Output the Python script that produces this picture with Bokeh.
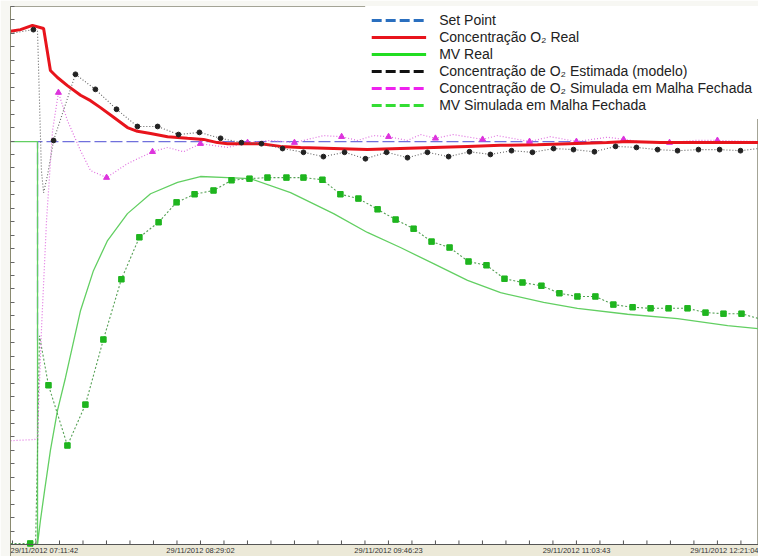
from bokeh.plotting import figure
from bokeh.models import (FixedTicker, Legend, LegendItem, Range1d, BoxAnnotation,
                          Span, ColumnDataSource, CustomJSTickFormatter)
from bokeh.core.properties import value
from bokeh.embed import file_html
from bokeh.resources import INLINE

# x: minutes since 29/11/2012 07:11:42 ; y: % of the (unlabelled) scale
sp_t = [10.3, 10.3, 306.9]
sp_y = [37.9, 74.9, 74.9]

o2_real_t = [-0.8, 3.3, 8.2, 12.8, 15.6, 18.5, 22.6, 28.0, 32.1, 36.2, 41.6, 47.3,
             51.4, 56.8, 63.8, 72.0, 78.6, 84.3, 88.5, 102.0, 110.3, 118.5, 132.1,
             146.0, 159.6, 173.2, 187.2, 200.8, 216.0, 244.8, 253.0, 266.6, 280.2, 306.9]
o2_real_y = [95.4, 95.7, 96.5, 95.9, 88.1, 86.8, 85.3, 83.5, 82.5, 81.2, 79.4, 77.5,
             76.8, 76.4, 75.8, 75.5, 75.3, 74.7, 74.5, 74.5, 74.0, 73.8, 73.6,
             73.4, 73.6, 73.8, 74.0, 74.2, 74.3, 74.7, 74.9, 74.7, 74.7, 74.7]

est_t = [-0.8, 8.6, 10.3, 11.1, 11.9, 12.8, 14.4, 16.9, 25.9, 34.1, 42.8, 51.4, 59.7,
         68.3, 76.9, 85.6, 94.2, 102.4, 111.1, 119.7, 127.9, 136.6, 145.2, 153.9,
         162.5, 170.7, 179.4, 188.0, 196.6, 205.3, 213.9, 222.6, 230.8, 239.4, 248.1,
         256.7, 265.4, 273.6, 282.2, 290.9, 299.5, 306.9]
est_y = [95.0, 95.7, 95.4, 82.5, 69.5, 65.4, 68.6, 75.1, 87.4, 84.6, 80.9, 77.7, 77.7,
         76.2, 76.6, 75.5, 74.7, 74.5, 73.6, 72.9, 72.1, 72.9, 71.7, 72.9,
         71.9, 72.9, 72.1, 73.0, 72.5, 73.2, 72.9, 73.6, 73.4, 73.0, 74.0,
         73.8, 73.4, 73.2, 73.4, 73.4, 73.2, 73.6]
est_samples = [1] + list(range(7, 41))

sim_t = [-0.8, 9.1, 10.3, 11.9, 14.0, 16.5, 18.9, 22.6, 28.0, 32.1, 38.7, 47.3, 57.6,
         63.8, 70.4, 77.3, 88.5, 96.7, 106.1, 116.0, 127.9, 135.4, 141.9, 148.5,
         154.7, 162.5, 167.9, 174.0, 181.4, 193.4, 199.5, 212.7, 221.3, 232.0, 244.8,
         251.4, 261.2, 270.3, 280.2, 290.0, 306.9]
sim_y = [19.3, 19.5, 19.9, 39.8, 60.2, 77.0, 84.0, 78.8, 73.2, 69.5, 68.2, 70.8, 73.0,
         73.8, 73.0, 74.5, 73.8, 74.7, 75.1, 74.7, 76.0, 75.8, 75.1, 76.0,
         75.8, 75.1, 76.2, 75.5, 76.2, 75.3, 76.0, 74.9, 75.8, 74.9, 75.7,
         75.3, 74.7, 74.7, 75.1, 75.1, 74.9]
sim_samples = [6, 10, 12, 15, 17, 19, 21, 24, 27, 29, 31, 33, 35, 37, 39]

mv_t = [-0.8, 10.3, 10.3, 11.5, 13.2, 15.6, 18.5, 21.8, 28.0, 33.3, 39.1, 47.3, 56.8,
        67.9, 77.3, 88.5, 97.9, 114.4, 132.1, 146.0, 159.6, 173.2, 187.2, 200.8,
        218.5, 232.4, 253.0, 273.6, 294.2, 306.9]
mv_y = [74.9, 74.9, 0.0, 4.5, 10.0, 17.5, 24.9, 31.0, 43.5, 50.9, 56.5, 61.5, 65.2,
        67.3, 68.4, 68.2, 68.0, 65.4, 61.5, 58.0, 55.2, 52.2, 49.1, 46.8,
        45.0, 43.9, 42.8, 42.0, 40.7, 40.1]

mvs_t = [-0.8, 7.3, 9.5, 10.3, 11.1, 14.8, 22.6, 30.0, 37.4, 44.8, 52.2, 60.1, 67.5,
         74.9, 82.7, 90.1, 97.5, 104.9, 112.7, 119.7, 127.5, 134.9, 142.3, 150.2,
         157.6, 165.0, 172.4, 179.8, 187.6, 195.0, 202.4, 209.8, 217.6, 225.0, 232.4,
         239.8, 247.2, 255.1, 262.5, 269.9, 277.7, 285.1, 292.5, 299.9, 306.9]
mvs_y = [0.2, 0.2, 0.2, 17.5, 38.8, 29.6, 18.4, 26.0, 38.1, 49.3, 57.1, 59.9, 63.6,
         65.1, 65.8, 67.7, 68.0, 68.2, 68.2, 68.2, 67.8, 65.1, 64.3, 62.3,
         60.4, 58.7, 56.3, 55.2, 52.6, 51.9, 49.4, 48.7, 48.1, 46.7, 46.1,
         46.1, 44.6, 44.1, 43.9, 43.9, 43.9, 43.1, 42.9, 42.9, 42.0]
mvs_samples = [1] + list(range(5, 44))

tick_minutes = [0.0, 77.333, 154.683, 232.017, 309.367]
tick_labels = ["29/11/2012 07:11:42", "29/11/2012 08:29:02", "29/11/2012 09:46:23",
               "29/11/2012 11:03:43", "29/11/2012 12:21:04"]

legend_labels = ["Set Point", "Concentração O₂ Real", "MV Real",
                 "Concentração de O₂ Estimada (modelo)",
                 "Concentração de O₂ Simulada em Malha Fechada",
                 "MV Simulada em Malha Fechada"]

FONT = "Liberation Sans"
X0, X1 = -0.82, 306.9
Y0, Y1 = -2.23, 100.0

p = figure(width=758, height=556, x_range=Range1d(X0, X1), y_range=Range1d(Y0, Y1),
           output_backend="svg", toolbar_location=None, x_axis_location=None,
           min_border_left=10, min_border_right=0, min_border_top=6,
           min_border_bottom=0, border_fill_color="#f7f7f3",
           background_fill_color="white", outline_line_color="#a4a496")
p.grid.visible = False

# y axis (ticks only, no labels)
p.yaxis.ticker = FixedTicker(ticks=[i * 2.5 for i in range(41)])
p.yaxis.formatter = CustomJSTickFormatter(code="return ''")
p.yaxis.major_label_standoff = 0
p.yaxis.major_tick_in = 4
p.yaxis.major_tick_out = 0
p.yaxis.minor_tick_line_color = None
p.yaxis.axis_line_color = "#8a8a70"
p.yaxis.major_tick_line_color = "#666666"

# time axis strip drawn at y = 0
p.add_layout(BoxAnnotation(top=0, fill_color="#ece9d8", fill_alpha=1,
                           line_alpha=0, level="underlay"))
p.add_layout(Span(location=0, dimension="width", line_color="#555555",
                  line_width=1))
minor = [i * tick_minutes[1] / 8 for i in range(0, 33)]
p.segment(x0=minor, y0=[0] * len(minor), x1=minor, y1=[0.75] * len(minor),
          line_color="#555555", line_width=1)
lab_src = ColumnDataSource(dict(
    x=[X0] + tick_minutes[1:4] + [X1],
    y=[-1.12] * 5,
    text=tick_labels,
    align=["left", "center", "center", "center", "right"]))
p.text(x="x", y="y", text="text", text_align="align", source=lab_src,
       text_baseline="middle", text_font=value(FONT), text_font_size="7.5px",
       text_color="#333333")

# data
p.line(sp_t, sp_y, line_color="#7070dc", line_width=1.3, line_dash="12 4")
p.line(mv_t, mv_y, line_color="#62cf62", line_width=1.3)
p.line(mvs_t, mvs_y, line_color="#55a055", line_width=1.1, line_dash="2 2")
p.scatter([mvs_t[i] for i in mvs_samples], [mvs_y[i] for i in mvs_samples],
          marker="square", size=5.5, fill_color="#1fb51f", line_color="#1fb51f")
p.line(sim_t, sim_y, line_color="#e070e0", line_width=1.2, line_dash="1 2")
p.scatter([sim_t[i] for i in sim_samples], [sim_y[i] for i in sim_samples],
          marker="triangle", size=6, fill_color="#dd33dd", line_color="#dd33dd")
p.line(o2_real_t, o2_real_y, line_color="#e8141c", line_width=3)
p.line(est_t, est_y, line_color="#606060", line_width=1.1, line_dash="1 2")
p.scatter([est_t[i] for i in est_samples], [est_y[i] for i in est_samples],
          marker="circle", size=4.8, fill_color="#222222", line_color="#222222")

# legend swatches
nan = float("nan")
styles = [("#2a6fbf", "10 4"), ("#e8141c", "solid"), ("#22dd22", "solid"),
          ("#111111", "10 4"), ("#ee22ee", "10 4"), ("#33dd33", "10 4")]
items = []
for lab, (col, dash) in zip(legend_labels, styles):
    r = p.line([nan, nan], [nan, nan], line_color=col, line_width=3, line_dash=dash)
    items.append(LegendItem(label=lab, renderers=[r]))
legend = Legend(items=items, location="top_right", border_line_alpha=0,
                background_fill_color="white", background_fill_alpha=1,
                label_text_font=FONT, label_text_font_size="14px",
                label_text_color="#222222", glyph_width=55, glyph_height=16,
                label_height=16, label_standoff=13, spacing=1, padding=6, margin=0)
p.add_layout(legend)

open("out.html", "w").write(file_html(p, INLINE))
